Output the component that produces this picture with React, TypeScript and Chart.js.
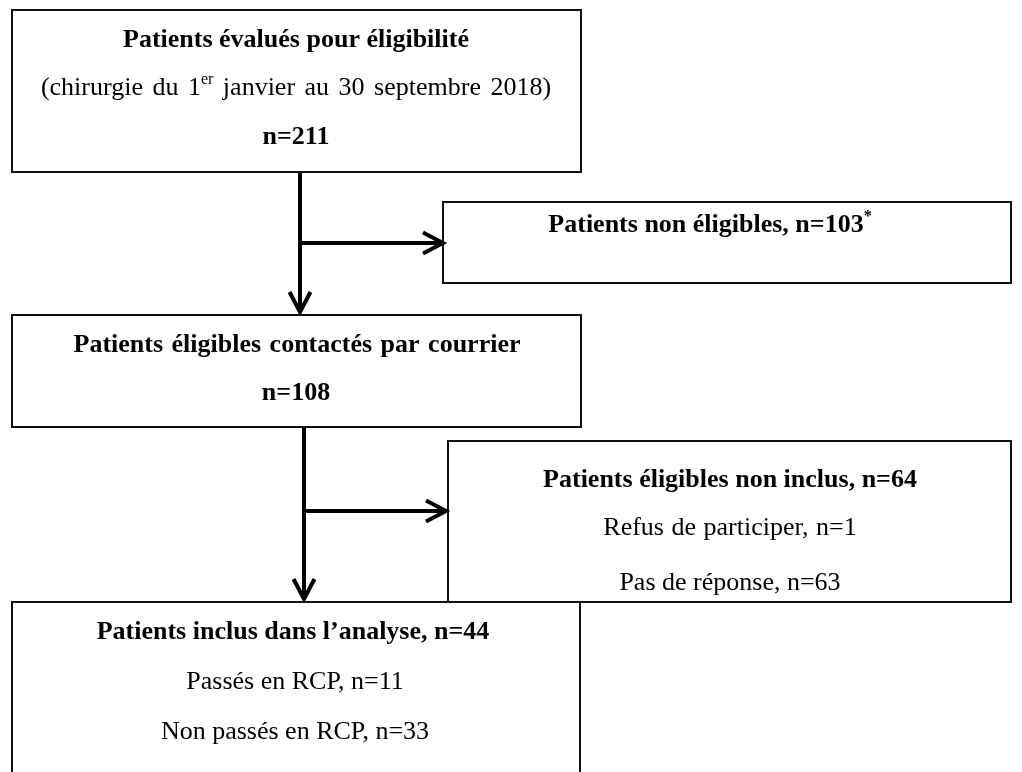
import React, { useEffect, useRef } from "react";
import { Chart, registerables } from "chart.js";

Chart.register(...registerables);

const CANVAS_W = 1022;
const CANVAS_H = 772;

// Flowchart boxes (in chart units = pixels of the figure)
const boxLeft = [12, 443, 12, 448, 12];
const boxRight = [581, 1011, 581, 1011, 580];
const boxTop = [10, 202, 315, 441, 602];
const boxBottom = [172, 283, 427, 602, 800];

// Arrows: shaft start -> tip
const arrowStartX = [300, 300, 304, 304];
const arrowStartY = [172, 243, 427, 511];
const arrowTipX = [300, 443, 304, 446];
const arrowTipY = [312, 243, 599, 511];

// Text lines (^{...} marks a superscript)
const labelText = [
  "Patients évalués pour éligibilité",
  "(chirurgie du 1^{er} janvier au 30 septembre 2018)",
  "n=211",
  "Patients non éligibles, n=103^{*}",
  "Patients éligibles contactés par courrier",
  "n=108",
  "Patients éligibles non inclus, n=64",
  "Refus de participer, n=1",
  "Pas de réponse, n=63",
  "Patients inclus dans l’analyse, n=44",
  "Passés en RCP, n=11",
  "Non passés en RCP, n=33",
];
const labelBold = [true, false, true, true, true, true, true, false, false, true, false, false];
const labelX = [296, 296, 296, 710, 297, 296, 730, 730, 730, 293, 295, 295];
const labelY = [40, 88, 137, 225, 345, 393, 480, 528, 583, 632, 682, 732];
const labelWordSpacing = [0, 3, 0, 0, 2, 0, 0, 1, 0, 0, 0, 0];

const FONT_FAMILY = '"Liberation Serif", "Times New Roman", serif';
const FONT_SIZE = 26;
const ARROW_LEN = 20;
const ARROW_HALF = 10.5;

function parseSegments(s: string) {
  const segs: { text: string; sup: boolean }[] = [];
  const re = /\^\{([^}]*)\}/g;
  let last = 0;
  let m: RegExpExecArray | null;
  while ((m = re.exec(s)) !== null) {
    if (m.index > last) segs.push({ text: s.slice(last, m.index), sup: false });
    segs.push({ text: m[1], sup: true });
    last = m.index + m[0].length;
  }
  if (last < s.length) segs.push({ text: s.slice(last), sup: false });
  return segs;
}

const textPlugin = {
  id: "flowText",
  afterDatasetsDraw(chart: any) {
    const ctx = chart.ctx as any;
    const xs = chart.scales.x;
    const ys = chart.scales.y;
    ctx.save();
    ctx.fillStyle = "#000";
    ctx.textBaseline = "middle";
    ctx.textAlign = "left";
    labelText.forEach((txt, i) => {
      const weight = labelBold[i] ? "bold " : "";
      ctx.wordSpacing = `${labelWordSpacing[i]}px`;
      const segs = parseSegments(txt);
      const normalFont = `${weight}${FONT_SIZE}px ${FONT_FAMILY}`;
      const supFont = `${weight}${Math.round(FONT_SIZE * 0.62)}px ${FONT_FAMILY}`;
      let total = 0;
      const widths = segs.map((sg) => {
        ctx.font = sg.sup ? supFont : normalFont;
        const w = ctx.measureText(sg.text).width;
        total += w;
        return w;
      });
      const cx = xs.getPixelForValue(labelX[i]);
      const cy = ys.getPixelForValue(labelY[i]);
      let x = cx - total / 2;
      segs.forEach((sg, k) => {
        ctx.font = sg.sup ? supFont : normalFont;
        ctx.fillText(sg.text, x, sg.sup ? cy - FONT_SIZE * 0.3 : cy);
        x += widths[k];
      });
    });
    ctx.wordSpacing = "0px";
    ctx.restore();
  },
};

function buildDatasets() {
  const ds: any[] = [];
  boxLeft.forEach((l, i) => {
    const r = boxRight[i];
    const t = boxTop[i];
    const b = boxBottom[i];
    ds.push({
      label: `box${i}`,
      data: [
        { x: l, y: t },
        { x: r, y: t },
        { x: r, y: b },
        { x: l, y: b },
        { x: l, y: t },
      ],
      showLine: true,
      borderColor: "#111",
      borderWidth: 2,
      borderJoinStyle: "miter",
      borderCapStyle: "square",
      pointRadius: 0,
      tension: 0,
      fill: false,
    });
  });
  arrowStartX.forEach((sx, i) => {
    const sy = arrowStartY[i];
    const tx = arrowTipX[i];
    const ty = arrowTipY[i];
    ds.push({
      label: `arrow${i}`,
      data: [
        { x: sx, y: sy },
        { x: tx, y: ty },
      ],
      showLine: true,
      borderColor: "#000",
      borderWidth: 4,
      borderCapStyle: "butt",
      pointRadius: 0,
      tension: 0,
      fill: false,
    });
    const len = Math.hypot(tx - sx, ty - sy) || 1;
    const dx = (tx - sx) / len;
    const dy = (ty - sy) / len;
    const nx = -dy;
    const ny = dx;
    ds.push({
      label: `head${i}`,
      data: [
        { x: tx - dx * ARROW_LEN + nx * ARROW_HALF, y: ty - dy * ARROW_LEN + ny * ARROW_HALF },
        { x: tx, y: ty },
        { x: tx - dx * ARROW_LEN - nx * ARROW_HALF, y: ty - dy * ARROW_LEN - ny * ARROW_HALF },
      ],
      showLine: true,
      borderColor: "#000",
      borderWidth: 4,
      borderJoinStyle: "miter",
      borderCapStyle: "butt",
      pointRadius: 0,
      tension: 0,
      fill: false,
    });
  });
  return ds;
}

export default function App() {
  const canvasRef = useRef<HTMLCanvasElement | null>(null);

  useEffect(() => {
    if (!canvasRef.current) return;
    const chart = new Chart(canvasRef.current, {
      type: "scatter",
      data: { datasets: buildDatasets() },
      options: {
        animation: false,
        responsive: false,
        maintainAspectRatio: false,
        devicePixelRatio: 1,
        layout: { padding: 0 },
        clip: false as any,
        plugins: {
          legend: { display: false },
          tooltip: { enabled: false },
          title: { display: false },
        },
        events: [],
        scales: {
          x: { type: "linear", min: 0, max: CANVAS_W, display: false },
          y: { type: "linear", min: 0, max: CANVAS_H, reverse: true, display: false },
        },
      },
      plugins: [textPlugin],
    });
    return () => chart.destroy();
  }, []);

  return (
    <div style={{ position: "fixed", left: 0, top: 0, width: CANVAS_W, height: CANVAS_H, background: "#fff" }}>
      <canvas ref={canvasRef} width={CANVAS_W} height={CANVAS_H} />
    </div>
  );
}
